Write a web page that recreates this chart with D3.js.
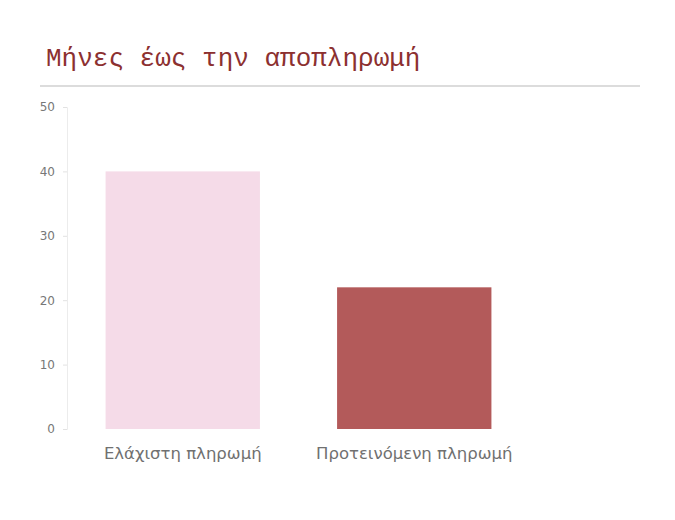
<!DOCTYPE html>
<html>
<head>
<meta charset="utf-8">
<script src="https://cdn.jsdelivr.net/npm/d3@7"></script>
<style>
  body { margin: 0; background: #fff; }
</style>
</head>
<body>
<div id="chart"></div>
<script>
// chart values
var titleText = "Μήνες έως την αποπληρωμή";
var categories = ["Ελάχιστη πληρωμή", "Προτεινόμενη πληρωμή"];
var months = [40, 22];
var barColors = ["#f5dbe8", "#b35a5a"];
var yTicks = [0, 10, 20, 30, 40, 50];

var W = 675, H = 520;
var margin = {top: 107, right: 145, bottom: 91, left: 67};
var width = W - margin.left - margin.right;
var height = H - margin.top - margin.bottom;

var svg = d3.select("#chart")
  .append("svg")
  .attr("width", W)
  .attr("height", H);

// title + rule under it
svg.append("text")
  .attr("x", 46)
  .attr("y", 66)
  .style("font-family", "'Liberation Mono', 'DejaVu Sans Mono', monospace")
  .style("font-size", "26px")
  .style("fill", "#8c3030")
  .text(titleText);

svg.append("line")
  .attr("x1", 40).attr("x2", 640)
  .attr("y1", 86).attr("y2", 86)
  .style("stroke", "#dcdcdc")
  .style("stroke-width", 2);

var g = svg.append("g")
  .attr("transform", "translate(" + margin.left + "," + margin.top + ")");

var x = d3.scaleBand()
  .domain(categories)
  .range([0, width])
  .paddingInner(1 / 3)
  .paddingOuter(1 / 6);

var y = d3.scaleLinear()
  .domain([0, 50])
  .range([height, 0]);

// y axis
var yAxis = g.append("g")
  .call(d3.axisLeft(y).tickValues(yTicks).tickSize(4).tickPadding(8));
yAxis.select(".domain").style("stroke", "#ececec");
yAxis.selectAll(".tick line").style("stroke", "#e2e2e2");
yAxis.selectAll(".tick text")
  .style("font-family", "'DejaVu Sans', sans-serif")
  .style("font-size", "12px")
  .style("fill", "#777");

// bars
g.selectAll(".bar")
  .data(months)
  .enter()
  .append("rect")
  .attr("class", "bar")
  .attr("x", (d, i) => x(categories[i]))
  .attr("y", d => y(d))
  .attr("width", x.bandwidth())
  .attr("height", d => height - y(d))
  .style("fill", (d, i) => barColors[i]);

// category labels
var xAxis = g.append("g")
  .attr("transform", "translate(0," + height + ")")
  .call(d3.axisBottom(x).tickSize(0).tickPadding(18));
xAxis.select(".domain").remove();
xAxis.selectAll(".tick text")
  .style("font-family", "'DejaVu Sans', sans-serif")
  .style("font-size", "16.5px")
  .style("fill", "#707070");
</script>
</body>
</html>
